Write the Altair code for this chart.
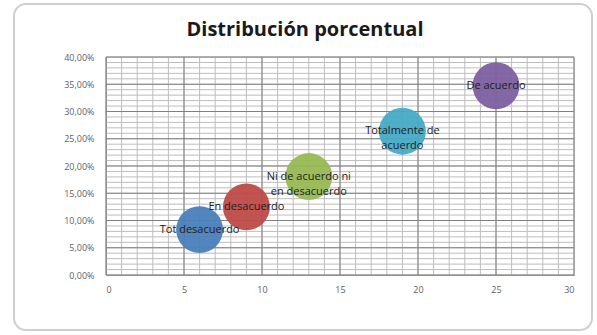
import altair as alt
import pandas as pd

# Survey answers, response counts and share of the total
categories = [
    "Tot desacuerdo",
    "En desacuerdo",
    "Ni de acuerdo ni\nen desacuerdo",
    "Totalmente de\nacuerdo",
    "De acuerdo",
]
counts = [6, 9, 13, 19, 25]
shares = [0.0833, 0.125, 0.1806, 0.2639, 0.3472]
colors = ["#4a7ebb", "#be4b48", "#98b954", "#46aac5", "#7d60a0"]

# Grid positions: minor every unit / every 1 %, major every 5 / 5 %
x_minor = list(range(0, 31))
x_major = [0, 5, 10, 15, 20, 25, 30]
y_minor = [i / 100 for i in range(0, 41)]
y_major = [0.0, 0.05, 0.10, 0.15, 0.20, 0.25, 0.30, 0.35, 0.40]

W, H = 468, 218

df = pd.DataFrame({"cat": categories, "n": counts, "pct": shares, "color": colors})

xs = alt.Scale(domain=[0, 30], nice=False, zero=True)
ys = alt.Scale(domain=[0, 0.40], nice=False, zero=True)

x_axis = alt.Axis(values=x_major, grid=False, ticks=False, domainColor="#808080",
                  labelFont="Open Sans", labelFontSize=9, labelColor="#5f5f5f",
                  labelPadding=10, title=None)
y_axis = alt.Axis(values=y_major, grid=False, ticks=False, domainColor="#808080",
                  labelFont="Open Sans", labelFontSize=9, labelColor="#5f5f5f",
                  labelPadding=12, title=None,
                  labelExpr="replace(format(datum.value, '.2%'), '.', ',')")

# Rounded outer frame (stroke only, so the axes below stay visible)
frame = alt.Chart(pd.DataFrame({"a": [0]})).mark_rect(
    fill="white", fillOpacity=0, stroke="#cfcfcf", strokeWidth=2,
    cornerRadius=12, clip=False
).encode(
    x=alt.value(-92), x2=alt.value(486), y=alt.value(-53), y2=alt.value(273)
)

title = alt.Chart(pd.DataFrame({"t": ["Distribución porcentual"]})).mark_text(
    font="Open Sans", fontSize=20, fontWeight="bold", color="#1a1a1a",
    align="center", baseline="middle", clip=False
).encode(x=alt.value(199), y=alt.value(-27), text="t:N")

vminor = alt.Chart(pd.DataFrame({"x": x_minor})).mark_rule(
    color="#bdbdbd", strokeWidth=1
).encode(x=alt.X("x:Q", scale=xs, axis=x_axis))
hminor = alt.Chart(pd.DataFrame({"y": y_minor})).mark_rule(
    color="#bdbdbd", strokeWidth=1
).encode(y=alt.Y("y:Q", scale=ys, axis=y_axis))
vmajor = alt.Chart(pd.DataFrame({"x": x_major})).mark_rule(
    color="#808080", strokeWidth=1
).encode(x=alt.X("x:Q", scale=xs, axis=x_axis))
hmajor = alt.Chart(pd.DataFrame({"y": y_major})).mark_rule(
    color="#808080", strokeWidth=1
).encode(y=alt.Y("y:Q", scale=ys, axis=y_axis))

base = alt.Chart(df)

bubbles = base.mark_circle(size=2200, opacity=0.95).encode(
    x=alt.X("n:Q", scale=xs, axis=x_axis),
    y=alt.Y("pct:Q", scale=ys, axis=y_axis),
    color=alt.Color("color:N", scale=None),
)

labels = base.mark_text(
    font="Open Sans", fontSize=11, color="#222222", lineBreak="\n",
    align="center", baseline="middle", lineHeight=15
).encode(
    x=alt.X("n:Q", scale=xs, axis=x_axis),
    y=alt.Y("pct:Q", scale=ys, axis=y_axis),
    text="cat:N",
)

chart = alt.layer(
    frame, title, vminor, hminor, vmajor, hmajor, bubbles, labels
).properties(
    width=W, height=H,
    autosize=alt.AutoSizeParams(type="none"),
    padding={"left": 106, "top": 57, "right": 23, "bottom": 60},
).configure_view(stroke="#808080", strokeWidth=1).configure(background="white")

chart.save("out.html", embed_options={"renderer": "svg", "actions": False})
